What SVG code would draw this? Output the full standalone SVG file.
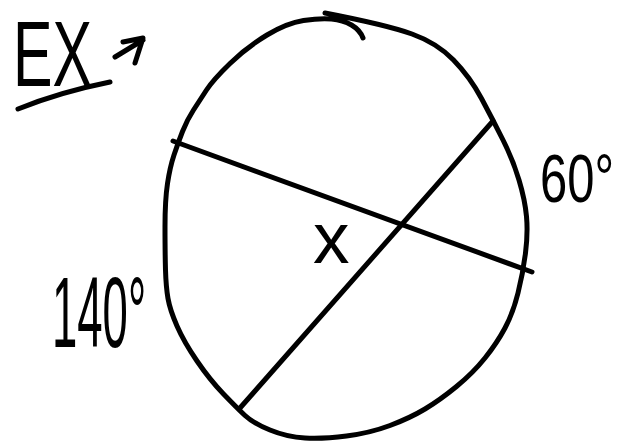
<svg xmlns="http://www.w3.org/2000/svg" width="626" height="444" viewBox="0 0 626 444">
  <style>
    .ink { fill: none; stroke: #000; stroke-width: 5; stroke-linecap: round; stroke-linejoin: round; }
    .lbl { font-family: "Liberation Sans", Arial, sans-serif; fill: #000; }
  </style>
  <rect width="626" height="444" fill="#fff"/>
  <g id="circle">
    <path class="ink" d="M325,13 Q387,25 412,34 Q437,43 453.5,60 Q470,77 481.5,98.5 Q493,120 503,140 Q513,160 519,180 Q525,200 526.5,216.5 Q528,233 525.5,253 Q523,273 518,293 Q513,313 505,328 Q497,343 485,358 Q473,373 456.5,386.5 Q440,400 425,409 Q410,418 390,425.5 Q370,433 346.5,436 Q323,439 305,438 Q287,437 270,430 Q253,423 245,415.5 Q237,408 223.5,394 Q210,380 197,361 Q184,342 177,326 Q170,310 168,298.5 Q166,287 165.5,270 Q165,253 165,226.5 Q165,200 167.5,183.5 Q170,167 174,155 Q178,143 182.5,131.5 Q187,120 193.5,110 Q200,100 206.5,90 Q213,80 230,63.5 Q247,47 267,35 Q287,23 303.5,20.5 Q320,18 331.5,19 Q343,20 351.5,25 Q360,30 363,38"/>
  </g>
  <g id="connectors">
    <line class="ink" x1="173" y1="141" x2="532" y2="272"/>
    <line class="ink" x1="493" y1="121" x2="240" y2="408"/>
  </g>
  <g id="label-ex">
    <text class="lbl" transform="translate(13,86) scale(0.644,1)" font-size="92">EX</text>
    <path class="ink" d="M18,109 Q60,92 110,82"/>
    <path class="ink" d="M115,57 L143,40 M123,42 L143,38 L135,63"/>
  </g>
  <g id="label-60">
    <text class="lbl" transform="translate(540,202) scale(0.72,1)" font-size="68">60°</text>
  </g>
  <g id="label-140">
    <text class="lbl" transform="translate(52,347) scale(0.455,1)" font-size="100">140°</text>
  </g>
  <g id="label-x">
    <text class="lbl" x="313" y="263" font-size="73">x</text>
  </g>
</svg>
